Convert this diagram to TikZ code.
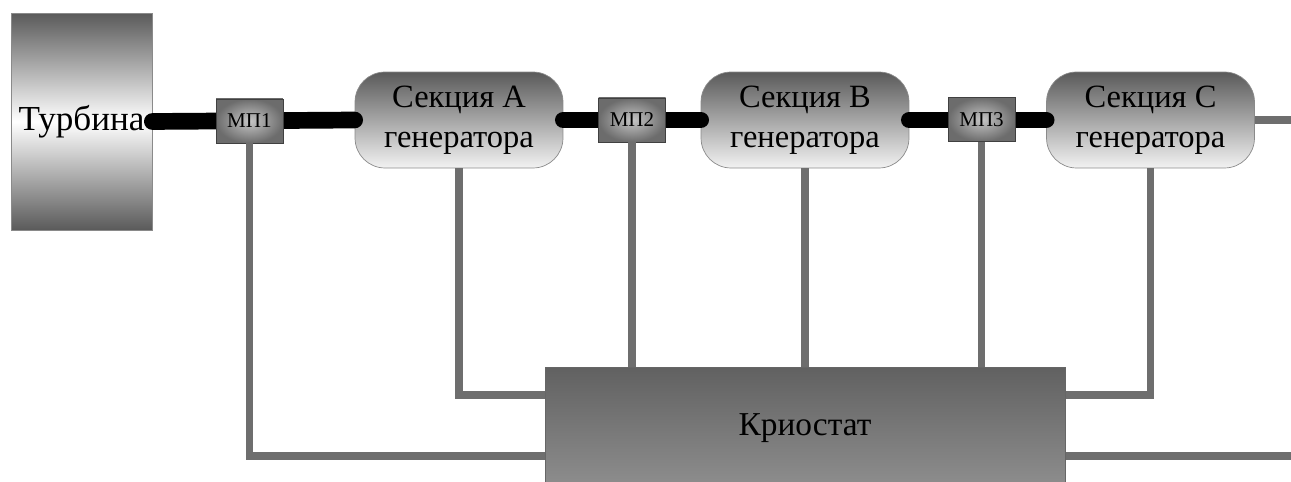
\documentclass[tikz,border=0pt]{standalone}
\usepackage{fontspec}
\setmainfont{Liberation Serif}
\usepackage{xcolor}
\usetikzlibrary{calc}

\definecolor{boxdark}{HTML}{5A5A5A}
\definecolor{boxlight}{HTML}{F2F2F2}
\definecolor{pipegray}{HTML}{6E6E6E}
\definecolor{edgegray}{HTML}{8A8A8A}

\tikzset{
  turbinebox/.style={draw=edgegray, minimum width=2.82cm, minimum height=4.34cm,
    top color=boxdark, bottom color=boxdark, middle color=white,
    font=\fontsize{20}{24}\selectfont, inner sep=0pt},
  sectionbox/.style={draw=edgegray, rounded corners=0.6cm, minimum width=4.16cm,
    minimum height=1.92cm, top color=boxdark, bottom color=boxlight,
    align=center, font=\fontsize{18.5}{23}\selectfont, inner sep=0pt},
  couplingbox/.style={draw=black!75, minimum width=1.34cm, minimum height=0.88cm,
    inner color=gray!45, outer color=gray!85!black, inner sep=0pt,
    font=\fontsize{12}{14}\selectfont},
  cryobox/.style={draw=black!60, minimum width=10.4cm, minimum height=2.46cm,
    top color=black!62, bottom color=black!44, inner sep=0pt,
    font=\fontsize{19}{23}\selectfont},
  shaft/.style={line width=9.5pt, line cap=round, black},
  pipe/.style={line width=4.5pt, pipegray},
}

\begin{document}
\begin{tikzpicture}[x=0.02cm, y=-0.02cm]
  \useasboundingbox (0,0) rectangle (1291,482);

  % Turbine and generator sections
  \node[turbinebox] (turb) at (81.5,121.5) {Турбина};
  \node[sectionbox] (secA) at (459,120) {Секция А\\генератора};
  \node[sectionbox] (secB) at (805,120) {Секция В\\генератора};
  \node[sectionbox] (secC) at (1150.5,120) {Секция С\\генератора};

  % Cryostat (runs off the bottom edge)
  \node[cryobox] (cryo) at (805,428.5) {Криостат};

  % Levels of the horizontal pipes and the right edge
  \coordinate (lvlA) at (0,395);
  \coordinate (lvlB) at (0,456);
  \coordinate (rim) at (1291,0);

  % Pipes to the cryostat
  \draw[pipe] (secA.south) |- (cryo.west |- lvlA);
  \draw[pipe] (secB.south) -- (secB.south |- cryo.north);
  \draw[pipe] (secC.south) |- (cryo.east |- lvlA);
  \draw[pipe] (secC.east) -- (rim |- secC.east);
  \draw[pipe] (cryo.east |- lvlB) -- (rim |- lvlB);

  % Shaft
  \draw[shaft] (turb.east) -- (secA.west);
  \draw[shaft] (secA.east) -- (secB.west);
  \draw[shaft] (secB.east) -- (secC.west);

  % Couplings
  \node[couplingbox] (mp1) at (249.5,121) {МП1};
  \node[couplingbox] (mp2) at (632,120) {МП2};
  \node[couplingbox] (mp3) at (981.5,119.5) {МП3};

  \draw[pipe] (mp1.south) |- (cryo.west |- lvlB);
  \draw[pipe] (mp2.south) -- (mp2.south |- cryo.north);
  \draw[pipe] (mp3.south) -- (mp3.south |- cryo.north);

  % Cryostat again on top of the pipe ends
  \node[cryobox] at (cryo) {Криостат};
\end{tikzpicture}
\end{document}
